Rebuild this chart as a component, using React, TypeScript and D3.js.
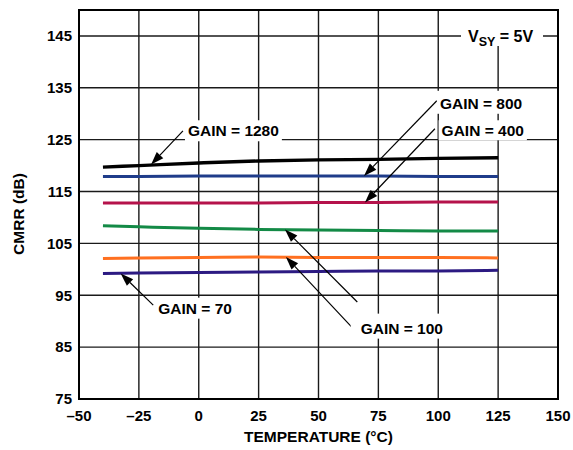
import React, { useEffect, useRef } from 'react';
import * as d3 from 'd3';

// temperature points (°C) and CMRR (dB) per gain setting
const TEMPS = [-40, -25, 0, 25, 50, 75, 100, 125];
const GAIN_1280 = [119.7, 120.0, 120.5, 120.9, 121.1, 121.2, 121.4, 121.5];
const GAIN_800 = [117.9, 117.9, 118.0, 118.0, 118.0, 118.0, 117.9, 117.9];
const GAIN_400 = [112.8, 112.8, 112.8, 112.8, 112.9, 112.9, 113.0, 113.0];
const GAIN_200 = [108.4, 108.2, 107.9, 107.7, 107.6, 107.5, 107.4, 107.4];
const GAIN_100 = [102.1, 102.2, 102.3, 102.4, 102.3, 102.3, 102.3, 102.2];
const GAIN_70 = [99.2, 99.3, 99.4, 99.5, 99.6, 99.7, 99.7, 99.8];

const X_TICKS = [-50, -25, 0, 25, 50, 75, 100, 125, 150];
const Y_TICKS = [75, 85, 95, 105, 115, 125, 135, 145];

const W = 573;
const H = 450;
const FONT = '"Liberation Sans", Arial, Helvetica, sans-serif';

const App: React.FC = () => {
  const svgRef = useRef<SVGSVGElement>(null);

  useEffect(() => {
    if (!svgRef.current) return;
    const svg = d3.select(svgRef.current);
    svg.selectAll('*').remove();

    const x = d3.scaleLinear().domain([-50, 150]).range([79, 558]);
    const y = d3.scaleLinear().domain([75, 150]).range([399, 10]);

    const series = [
      { values: GAIN_1280, color: '#000000', width: 3.4 },
      { values: GAIN_800, color: '#1f3c8a', width: 3 },
      { values: GAIN_400, color: '#b5124b', width: 3 },
      { values: GAIN_200, color: '#138a46', width: 3 },
      { values: GAIN_100, color: '#ff7020', width: 3 },
      { values: GAIN_70, color: '#2c1a82', width: 3 },
    ];

    // grid
    const grid = svg.append('g').attr('stroke', '#1a1a1a').attr('stroke-width', 1.4);
    Y_TICKS.slice(1).forEach(v => {
      grid.append('line').attr('x1', x(-50)).attr('x2', x(150)).attr('y1', y(v)).attr('y2', y(v));
    });
    X_TICKS.slice(1, -1).forEach(v => {
      grid.append('line').attr('x1', x(v)).attr('x2', x(v)).attr('y1', y(75)).attr('y2', y(150));
    });

    // labels (with white knock-out boxes)
    const labelLayer = svg.append('g');
    const bgLayer = labelLayer.append('g');
    const textLayer = labelLayer.append('g');

    const addLabel = (t: number, v: number, text: string, pad = [3, 2, 3, 2]) => {
      const el = textLayer.append('text')
        .attr('x', x(t)).attr('y', y(v))
        .attr('dy', '0.35em')
        .attr('font-family', FONT).attr('font-weight', 'bold').attr('font-size', 15.5)
        .attr('fill', '#000')
        .text(text);
      const b = (el.node() as SVGTextElement).getBBox();
      bgLayer.append('rect')
        .attr('x', b.x - pad[0]).attr('y', b.y - pad[1])
        .attr('width', b.width + pad[0] + pad[2]).attr('height', b.height + pad[1] + pad[3])
        .attr('fill', '#fff');
    };

    addLabel(-4.5, 126.7, 'GAIN = 1280');
    addLabel(100.7, 132.0, 'GAIN = 800', [3, 4, 3, 2]);
    addLabel(101.4, 126.7, 'GAIN = 400', [3, 2, 3, 1]);
    addLabel(-16.9, 92.5, 'GAIN = 70');
    addLabel(67.6, 88.65, 'GAIN = 100', [10, 6, 3, 2]);

    // V_SY label
    const vsy = textLayer.append('text')
      .attr('x', 468).attr('y', y(145)).attr('dy', '0.35em')
      .attr('font-family', FONT).attr('font-weight', 'bold').attr('font-size', 16);
    vsy.append('tspan').text('V');
    vsy.append('tspan').attr('font-size', 12.5).attr('dy', 4).text('SY');
    vsy.append('tspan').attr('dy', -4).text(' = 5V');
    bgLayer.append('rect').attr('x', 461).attr('y', 11).attr('width', 82).attr('height', 35).attr('fill', '#fff');

    // data lines
    const line = d3.line<number>().x((_, i) => x(TEMPS[i])).y(d => y(d)).curve(d3.curveMonotoneX);
    series.forEach(s => {
      svg.append('path')
        .datum(s.values)
        .attr('d', line)
        .attr('fill', 'none')
        .attr('stroke', s.color)
        .attr('stroke-width', s.width);
    });

    // arrows: [tailT, tailV, tipT, tipV]
    const arrows: [number, number, number, number][] = [
      [-6.6, 126.7, -19.9, 120.2],
      [99.4, 132.5, 69.0, 118.0],
      [98.6, 127.1, 69.4, 112.9],
      [-19.0, 93.1, -32.6, 99.2],
      [66.2, 93.7, 36.0, 107.7],
      [63.8, 88.9, 36.4, 102.4],
    ];
    const ag = svg.append('g');
    arrows.forEach(([t0, v0, t1, v1]) => {
      const x0 = x(t0), y0 = y(v0), x1 = x(t1), y1 = y(v1);
      const dx = x1 - x0, dy = y1 - y0;
      const len = Math.hypot(dx, dy);
      const ux = dx / len, uy = dy / len;
      const hl = 13, hw = 4.5;
      const bx = x1 - ux * hl, by = y1 - uy * hl;
      ag.append('line').attr('x1', x0).attr('y1', y0).attr('x2', bx).attr('y2', by)
        .attr('stroke', '#000').attr('stroke-width', 1.2);
      ag.append('polygon')
        .attr('points', [
          [x1, y1],
          [bx - uy * hw, by + ux * hw],
          [bx + uy * hw, by - ux * hw],
        ].map(p => p.join(',')).join(' '))
        .attr('fill', '#000');
    });

    // bring labels to front
    labelLayer.raise();

    // frame
    svg.append('rect')
      .attr('x', x(-50)).attr('y', y(150))
      .attr('width', x(150) - x(-50)).attr('height', y(75) - y(150))
      .attr('fill', 'none').attr('stroke', '#000').attr('stroke-width', 2);

    // tick labels
    const tg = svg.append('g').attr('font-family', FONT).attr('font-weight', 'bold').attr('font-size', 15);
    Y_TICKS.forEach(v => {
      tg.append('text').attr('x', 72).attr('y', y(v)).attr('dy', '0.35em')
        .attr('text-anchor', 'end').text(String(v));
    });
    X_TICKS.forEach(v => {
      tg.append('text').attr('x', x(v)).attr('y', 416).attr('dy', '0.35em')
        .attr('text-anchor', 'middle').text(v < 0 ? `\u2013${Math.abs(v)}` : String(v));
    });

    // axis titles
    tg.append('text').attr('x', (x(-50) + x(150)) / 2).attr('y', 437).attr('dy', '0.35em')
      .attr('font-size', 15.5).attr('text-anchor', 'middle').text('TEMPERATURE (°C)');
    tg.append('text').attr('transform', 'translate(19,214) rotate(-90)').attr('dy', '0.35em')
      .attr('font-size', 15.5).attr('text-anchor', 'middle').text('CMRR (dB)');
  }, []);

  return (
    <svg
      ref={svgRef}
      width={W}
      height={H}
      style={{ position: 'absolute', left: 0, top: 0, background: '#fff', display: 'block' }}
    />
  );
};

export default App;
